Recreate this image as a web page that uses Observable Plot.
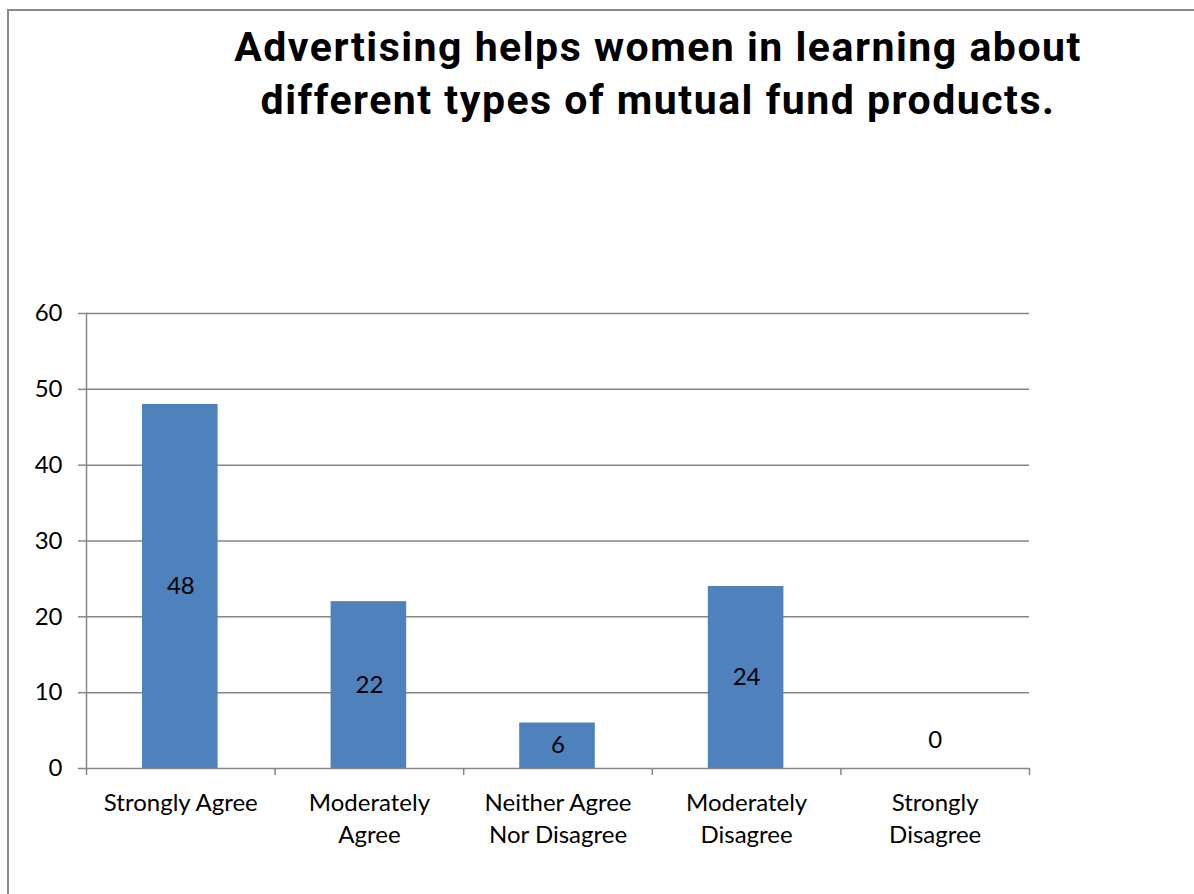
<!DOCTYPE html>
<html>
<head>
<meta charset="utf-8">
<script src="https://cdn.jsdelivr.net/npm/d3@7"></script>
<script src="https://cdn.jsdelivr.net/npm/@observablehq/plot@0.6"></script>
<style>
  html, body { margin: 0; padding: 0; background: #fff; width: 1194px; height: 894px; overflow: hidden; }
  #frame { position: absolute; left: 7px; top: 9px; width: 1300px; height: 1000px; border-left: 2px solid #8a8a8a; border-top: 2px solid #8a8a8a; }
  #title { position: absolute; left: 158px; width: 1000px; top: 21px; text-align: center; font-family: Roboto, "Liberation Sans", sans-serif; font-weight: 700; font-size: 41px; letter-spacing: 1.5px; line-height: 53px; color: #000; }
  #chart { position: absolute; left: 0; top: 0; }
</style>
</head>
<body>
<div id="frame"></div>
<div id="title">Advertising helps women in learning about<br>different types of mutual fund products.</div>
<div id="chart"></div>
<script>
const categories = ["Strongly Agree", "Moderately\nAgree", "Neither Agree\nNor Disagree", "Moderately\nDisagree", "Strongly\nDisagree"];
const values = [48, 22, 6, 24, 0];
const yTicks = [0, 10, 20, 30, 40, 50, 60];

const data = categories.map((c, i) => ({i, label: c, value: values[i]}));
const font = "Lato, 'Open Sans', sans-serif";

const chart = Plot.plot({
  width: 1194,
  height: 894,
  marginTop: 313,
  marginBottom: 126,
  marginLeft: 86,
  marginRight: 165,
  style: {fontFamily: font, fontSize: "24px", color: "#000", background: "transparent"},
  x: {type: "linear", domain: [0, categories.length], axis: null},
  y: {domain: [0, 60], axis: null},
  marks: [
    Plot.ruleY(yTicks.filter(d => d > 0), {stroke: "#868686", strokeWidth: 1.5}),
    Plot.axisY({ticks: yTicks, tickSize: 8, tickPadding: 16, stroke: "#868686", strokeWidth: 1.5, fontSize: 24, fill: "#000", label: null, tickFormat: d => d}),
    Plot.rectY(data, {x1: d => d.i, x2: d => d.i + 1, y: "value", fill: "#4F81BD", insetLeft: 56, insetRight: 57}),
    Plot.ruleY([0], {stroke: "#868686", strokeWidth: 1.5}),
    Plot.frame({anchor: "left", stroke: "#868686", strokeWidth: 1.5}),
    Plot.axisX({ticks: d3.range(categories.length + 1), tickSize: 7, tickFormat: () => "", stroke: "#868686", strokeWidth: 1.5}),
    Plot.text(data, {x: d => d.i + 0.5, y: 0, text: "label", lineAnchor: "top", dy: 20, fontSize: 24, lineHeight: 1.33, fill: "#000"}),
    Plot.text(data.filter(d => d.value > 0), {x: d => d.i + 0.5, y: d => d.value / 2, text: d => String(d.value), fontSize: 24, fill: "#000"}),
    Plot.text(data.filter(d => d.value === 0), {x: d => d.i + 0.5, y: 0, text: d => String(d.value), dy: -28, fontSize: 24, fill: "#000"})
  ]
});
document.getElementById("chart").appendChild(chart);
</script>
</body>
</html>
